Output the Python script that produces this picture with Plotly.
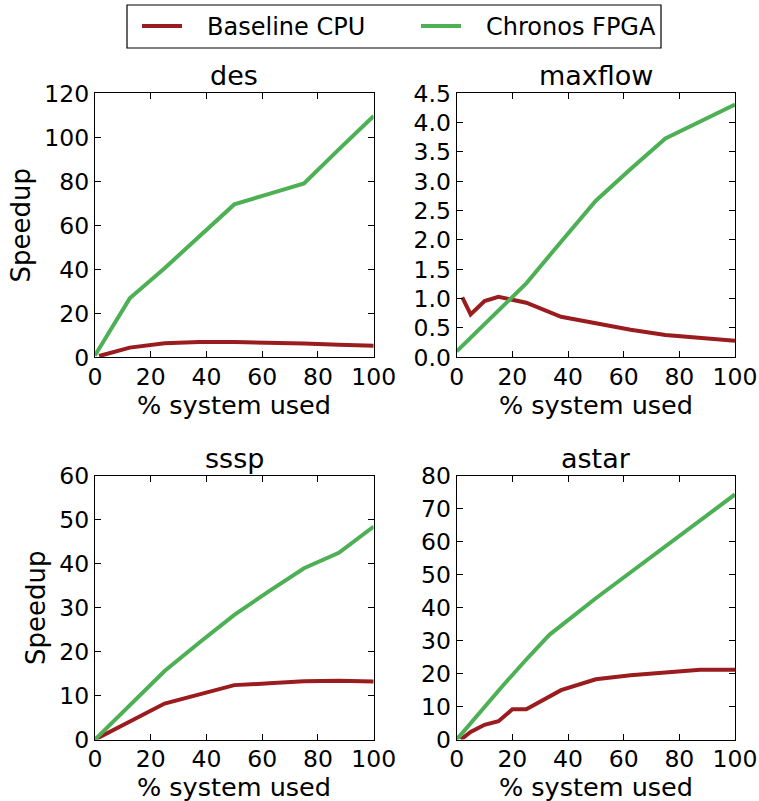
import plotly.graph_objects as go

# ---- data ----
des_cpu_x = [1.5, 12.5, 25, 37.5, 50, 62.5, 75, 87.5, 100]
des_cpu_y = [0.6, 4.4, 6.4, 7.0, 6.9, 6.8, 6.3, 5.7, 5.3]
des_fpga_x = [0, 12.5, 25, 37.5, 50, 62.5, 75, 87.5, 100]
des_fpga_y = [0.8, 26.8, 40.5, 55.0, 69.5, 74.3, 79.0, 94.5, 109.7]

maxflow_cpu_x = [2, 5, 10, 15, 25, 37.5, 50, 62.5, 75, 87.5, 100]
maxflow_cpu_y = [1.02, 0.73, 0.96, 1.03, 0.93, 0.69, 0.58, 0.47, 0.38, 0.33, 0.28]
maxflow_fpga_x = [0, 12.5, 25, 37.5, 50, 62.5, 75, 87.5, 100]
maxflow_fpga_y = [0.1, 0.68, 1.26, 1.97, 2.67, 3.21, 3.73, 4.02, 4.31]

sssp_cpu_x = [0, 12.5, 25, 37.5, 50, 62.5, 75, 87.5, 100]
sssp_cpu_y = [0.0, 4.2, 8.2, 10.3, 12.4, 12.8, 13.3, 13.4, 13.2]
sssp_fpga_x = [0, 12.5, 25, 37.5, 50, 62.5, 75, 87.5, 100]
sssp_fpga_y = [0.0, 7.9, 15.6, 22.1, 28.4, 33.8, 39.0, 42.5, 48.5]

astar_cpu_x = [1.5, 5, 10, 15, 20, 25, 37.5, 50, 62.5, 75, 87.5, 100]
astar_cpu_y = [0.0, 2.3, 4.5, 5.6, 9.2, 9.2, 15.0, 18.3, 19.5, 20.3, 21.2, 21.2]
astar_fpga_x = [0, 8.3, 16.7, 25, 33.3, 50, 66.7, 83.3, 100]
astar_fpga_y = [0.0, 8.3, 16.5, 24.3, 31.8, 42.9, 53.5, 64.0, 74.4]

titles = ["des", "maxflow", "sssp", "astar"]
series_names = ["Baseline CPU", "Chronos FPGA"]
x_title = "% system used"
y_title = "Speedup"
y_ranges = [[0, 120], [0, 4.5], [0, 60], [0, 80]]
y_dticks = [20, 0.5, 10, 10]
x_ticks = [0, 20, 40, 60, 80, 100]

cpu_color = "#9b1c1f"
fpga_color = "#4db055"
FONT = "DejaVu Sans"
TICK_FS = 23.5
LABEL_FS = 26
XLABEL_FS = 25.5
TITLE_FS = 27
LEG_FS = 24

data = [
    (des_cpu_x, des_cpu_y, des_fpga_x, des_fpga_y),
    (maxflow_cpu_x, maxflow_cpu_y, maxflow_fpga_x, maxflow_fpga_y),
    (sssp_cpu_x, sssp_cpu_y, sssp_fpga_x, sssp_fpga_y),
    (astar_cpu_x, astar_cpu_y, astar_fpga_x, astar_fpga_y),
]

W, H = 759, 801
xdoms = [[94.9 / W, 373.7 / W], [456.7 / W, 735 / W]]
ydoms = [[(H - 357.3) / H, (H - 93.3) / H], [(H - 739.6) / H, (H - 476) / H]]
xtitle_shift = [-32, -31]

PAD = "\u00a0\u00a0\u2009"  # gap between legend line and label

fig = go.Figure()
layout = {}
annotations = []
for i in range(4):
    r, c = divmod(i, 2)
    n = i + 1
    xa = "x" if n == 1 else f"x{n}"
    ya = "y" if n == 1 else f"y{n}"
    cx, cy, fx, fy = data[i]
    fig.add_trace(go.Scatter(x=cx, y=cy, mode="lines", name=PAD + series_names[0],
                             line=dict(color=cpu_color, width=4),
                             xaxis=xa, yaxis=ya, showlegend=(i == 0),
                             legendgroup="cpu"))
    fig.add_trace(go.Scatter(x=fx, y=fy, mode="lines", name=PAD + series_names[1],
                             line=dict(color=fpga_color, width=4),
                             xaxis=xa, yaxis=ya, showlegend=(i == 0),
                             legendgroup="fpga"))
    common = dict(showline=True, linecolor="black", linewidth=1.2, mirror="ticks",
                  ticks="inside", ticklen=6, tickwidth=1.2, tickcolor="black",
                  showgrid=False, zeroline=False, automargin=False,
                  tickfont=dict(family=FONT, size=TICK_FS, color="black"))
    layout["xaxis" if n == 1 else f"xaxis{n}"] = dict(
        common, domain=xdoms[c], range=[0, 100], tickvals=x_ticks, anchor=ya,
        ticklabelstandoff=-2)
    yd = dict(common, domain=ydoms[r], range=y_ranges[i], dtick=y_dticks[i],
              tick0=0, anchor=xa)
    if i == 1:
        yd["tickformat"] = ".1f"
    if c == 0:
        yd["title"] = dict(text=y_title, font=dict(family=FONT, size=LABEL_FS, color="black"),
                           standoff=6)
    layout["yaxis" if n == 1 else f"yaxis{n}"] = yd
    annotations.append(dict(text=titles[i], xref=f"{xa} domain", yref=f"{ya} domain",
                            x=0.5, y=1.0, xanchor="center", yanchor="bottom",
                            showarrow=False, yshift=0,
                            font=dict(family=FONT, size=TITLE_FS, color="black")))
    annotations.append(dict(text=x_title, xref=f"{xa} domain", yref=f"{ya} domain",
                            x=0.5, y=0.0, xanchor="center", yanchor="top",
                            showarrow=False, yshift=xtitle_shift[r], borderpad=0,
                            font=dict(family=FONT, size=XLABEL_FS, color="black")))

fig.update_layout(
    **layout,
    annotations=annotations,
    shapes=[dict(type="rect", xref="paper", yref="paper",
                 x0=127 / W, x1=661 / W, y0=1 - 48 / H, y1=1 - 5 / H,
                 line=dict(color="black", width=1.2), fillcolor="white", layer="below")],
    width=W, height=H, autosize=False,
    margin=dict(l=0, r=0, t=0, b=0, pad=0, autoexpand=False),
    paper_bgcolor="white", plot_bgcolor="white",
    font=dict(family=FONT, size=TICK_FS, color="black"),
    showlegend=True,
    legend=dict(orientation="h", x=137 / W, xanchor="left", y=1 - 26.5 / H, yanchor="middle",
                borderwidth=0, bgcolor="rgba(0,0,0,0)",
                font=dict(family=FONT, size=LEG_FS, color="black"),
                entrywidth=224, entrywidthmode="pixels", itemwidth=40),
)

fig.write_html("out.html")
